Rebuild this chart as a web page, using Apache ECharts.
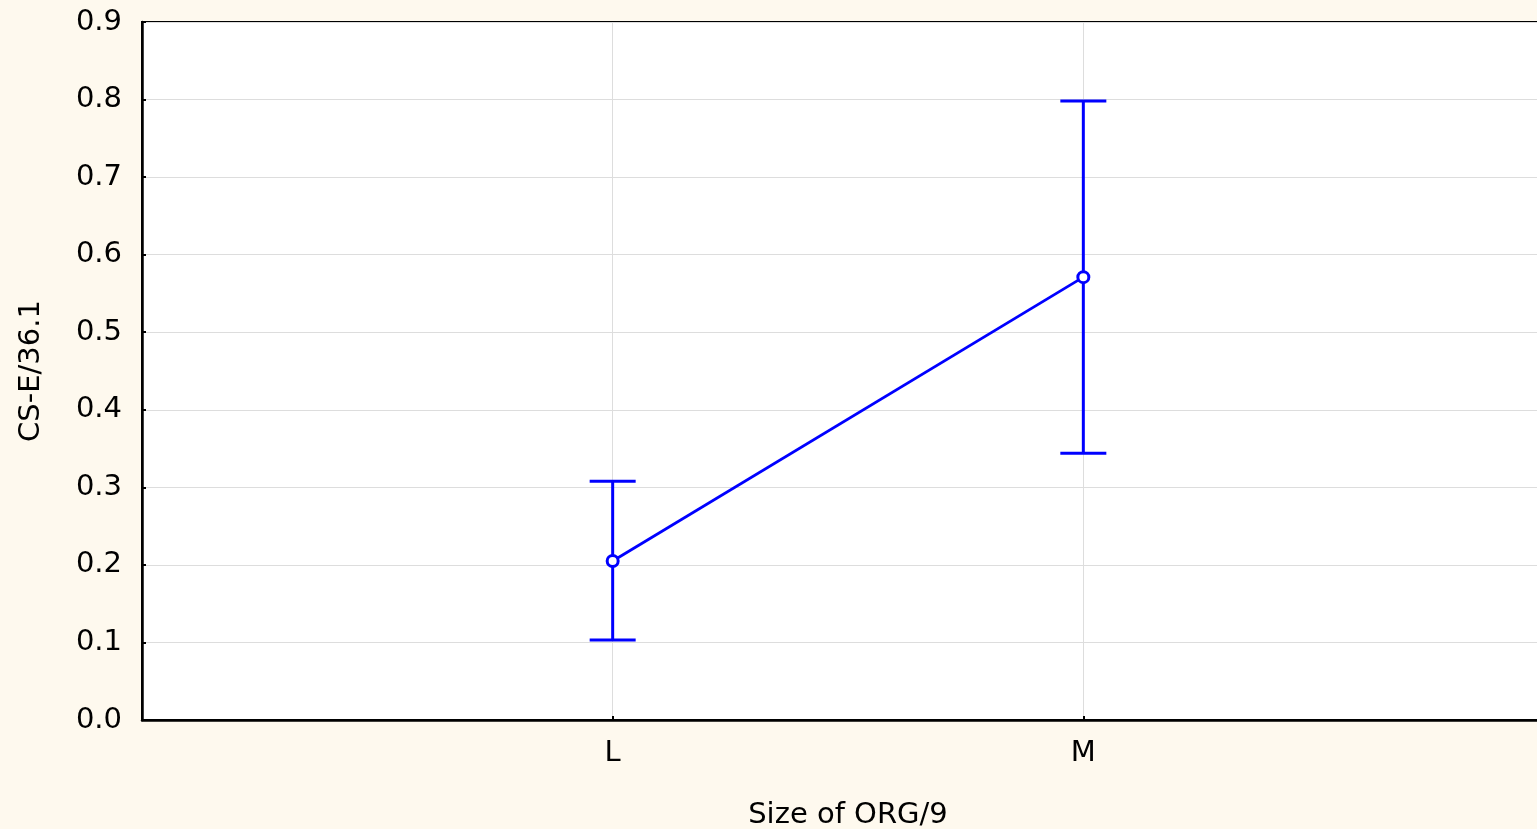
<!DOCTYPE html>
<html>
<head>
<meta charset="utf-8">
<title>CS-E/36.1 by Size of ORG/9</title>
<script src="https://cdn.jsdelivr.net/npm/echarts@6/dist/echarts.min.js"></script>
<style>
	html, body { margin: 0; padding: 0; background: #FEF9EE; }
	#chart { width: 1537px; height: 829px; }
</style>
</head>
<body>
<div id="chart"></div>
<script>
// categories on the x axis (placed at 1, 2 of a 0..3 value axis)
var categories = ['L', 'M'];
var catPos = [1, 2];
// means and error bar ends
var means = [0.205, 0.571];
var upper = [0.308, 0.798];
var lower = [0.103, 0.344];
var yTicks = [0, 0.1, 0.2, 0.3, 0.4, 0.5, 0.6, 0.7, 0.8, 0.9];

var blue = '#0000FF';
var fontFam = 'DejaVu Sans, Arial, sans-serif';
var fontSz = 29;

var lineData = [];
var barData = [];
for (var i = 0; i < categories.length; i++) {
	lineData.push([catPos[i], means[i]]);
	barData.push([catPos[i], lower[i], upper[i]]);
}

function renderErrorBar(params, api) {
	var x = api.value(0);
	var lo = api.coord([x, api.value(1)]);
	var hi = api.coord([x, api.value(2)]);
	var half = 23;
	var style = { stroke: blue, lineWidth: 3 };
	return {
		type: 'group',
		children: [
			{ type: 'line', shape: { x1: hi[0], y1: hi[1], x2: lo[0], y2: lo[1] }, style: style },
			{ type: 'line', shape: { x1: hi[0] - half, y1: hi[1], x2: hi[0] + half, y2: hi[1] }, style: style },
			{ type: 'line', shape: { x1: lo[0] - half, y1: lo[1], x2: lo[0] + half, y2: lo[1] }, style: style }
		]
	};
}

var myChart = echarts.init(document.getElementById('chart'));
myChart.setOption({
	backgroundColor: '#FEF9EE',
	animation: false,
	grid: {
		left: 142,
		top: 22,
		width: 1412,
		height: 698,
		outerBoundsMode: 'none',
		containLabel: false,
		show: true,
		backgroundColor: '#FFFFFF',
		borderColor: '#000000',
		borderWidth: 2
	},
	xAxis: {
		type: 'value',
		min: 0,
		max: 3,
		interval: 1,
		name: 'Size of ORG/9',
		nameLocation: 'middle',
		nameGap: 81,
		nameTextStyle: { color: '#000', fontSize: fontSz, fontFamily: fontFam },
		axisLine: { show: true, onZero: false, lineStyle: { color: '#000', width: 2.5 } },
		axisTick: { show: true, inside: true, length: 4, lineStyle: { color: '#000', width: 2 },
			customValues: catPos },
		axisLabel: {
			color: '#000', fontSize: fontSz, fontFamily: fontFam, margin: 19,
			customValues: catPos,
			formatter: function (v) {
				var idx = catPos.indexOf(v);
				return idx >= 0 ? categories[idx] : '';
			}
		},
		splitLine: { show: true, lineStyle: { color: '#DDDDDD', width: 1 } }
	},
	yAxis: {
		type: 'value',
		min: 0,
		max: 0.9,
		interval: 0.1,
		name: 'CS-E/36.1',
		nameLocation: 'middle',
		nameGap: 96,
		nameTextStyle: { color: '#000', fontSize: fontSz, fontFamily: fontFam },
		axisLine: { show: true, lineStyle: { color: '#000', width: 2.5 } },
		axisTick: { show: true, inside: true, length: 4, lineStyle: { color: '#000', width: 2 } },
		axisLabel: {
			color: '#000', fontSize: fontSz, fontFamily: fontFam, margin: 20,
			customValues: yTicks,
			formatter: function (v) { return v.toFixed(1); }
		},
		splitLine: { show: true, lineStyle: { color: '#DDDDDD', width: 1 } }
	},
	series: [
		{
			type: 'custom',
			renderItem: renderErrorBar,
			data: barData,
			z: 3
		},
		{
			type: 'line',
			data: lineData,
			symbol: 'circle',
			symbolSize: 11,
			lineStyle: { color: blue, width: 2.8 },
			itemStyle: { color: '#FFFFFF', borderColor: blue, borderWidth: 3 },
			z: 4
		}
	]
});
</script>
</body>
</html>
